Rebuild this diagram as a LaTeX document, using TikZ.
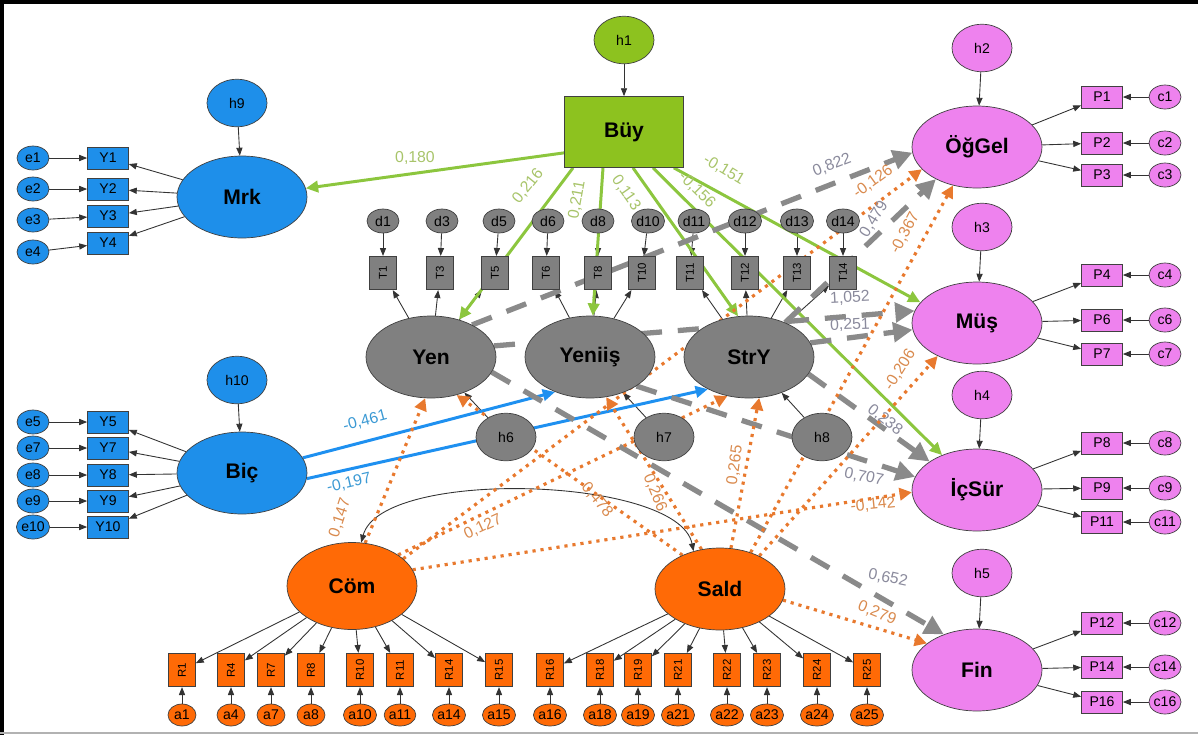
\documentclass[tikz,border=0pt]{standalone}
\usepackage{fontspec}
\setmainfont{Liberation Sans}
\usepackage{tikz}
\usetikzlibrary{arrows.meta,backgrounds,calc,shapes.geometric}
\definecolor{semblue}{HTML}{1E8FEA}
\definecolor{semgreen}{HTML}{8DC21F}
\definecolor{semgray}{HTML}{808080}
\definecolor{sempink}{HTML}{EE82EE}
\definecolor{semorange}{HTML}{FF6A06}
\definecolor{pathgreen}{HTML}{8CC63E}
\definecolor{pathblue}{HTML}{1E90F0}
\definecolor{pathgray}{HTML}{8A8A8A}
\definecolor{pathorange}{HTML}{E8792E}
\definecolor{lblgreen}{HTML}{A8C46A}
\definecolor{lblblue}{HTML}{3C9AD4}
\definecolor{lblgray}{HTML}{8A8A9C}
\definecolor{lblorange}{HTML}{D98A4E}

\begin{document}
\begin{tikzpicture}[x=0.02cm, y=-0.02cm,
  factor/.style={ellipse, draw=black!75, fill=#1, minimum width=2.6cm,
                 minimum height=1.64cm, inner sep=0pt,
                 font=\fontsize{12}{13}\selectfont\bfseries},
  resid/.style={ellipse, draw=black!75, fill=#1, minimum width=1.2cm,
                minimum height=0.95cm, inner sep=0pt, font=\fontsize{8}{9}\selectfont},
  err/.style={ellipse, draw=black!75, fill=#1, minimum width=0.64cm,
              minimum height=0.48cm, inner sep=0pt, font=\fontsize{8}{9}\selectfont},
  item/.style={rectangle, draw=black!75, fill=#1, minimum width=0.82cm,
               minimum height=0.44cm, inner sep=0pt, font=\fontsize{8}{9}\selectfont},
  vitem/.style={rectangle, draw=black!75, fill=#1, rotate=90, minimum width=0.67cm,
                minimum height=0.54cm, inner sep=0pt, font=\fontsize{6.5}{7}\selectfont},
  meas/.style={-{Triangle[length=4.5pt,width=3.5pt]}, draw=black!80, line width=0.5pt},
  cov/.style={{Triangle[length=4.5pt,width=3.5pt]}-{Triangle[length=4.5pt,width=3.5pt]},
              draw=black!80, line width=0.5pt},
  greenpath/.style={-{Triangle[length=7pt,width=6.5pt]}, draw=pathgreen, line width=1.7pt},
  bluepath/.style={-{Triangle[length=7pt,width=6.5pt]}, draw=pathblue, line width=1.7pt},
  graypath/.style={-{Triangle[length=11pt,width=11pt]}, draw=pathgray, line width=3pt,
                   dash pattern=on 12pt off 9pt},
  orangepath/.style={-{Triangle[length=7pt,width=7pt]}, draw=pathorange, line width=1.8pt,
                     dash pattern=on 1.8pt off 2.8pt},
  coef/.style={font=\fontsize{9}{10}\selectfont, inner sep=0pt},
]
  \useasboundingbox (0,0) rectangle (1198,735);
  \draw[line width=2.4pt] (0,2) -- (1198,2);
  \draw[line width=2.4pt] (2,0) -- (2,735);
  \draw[black!30, line width=0.8pt] (0,733) -- (1198,733);

  % Mrk ---------------------------------------------------------------------
  \node[resid=semblue] (h9) at (237,103) {h9};
  \node[factor=semblue] (Mrk) at (242,197) {Mrk};
  \node[item=semblue] (Y1) at (108,158) {Y1};
  \node[item=semblue] (Y2) at (108,189) {Y2};
  \node[item=semblue] (Y3) at (108,216) {Y3};
  \node[item=semblue] (Y4) at (108,243) {Y4};
  \node[err=semblue] (e1) at (33,158) {e1};
  \node[err=semblue] (e2) at (33,189) {e2};
  \node[err=semblue] (e3) at (33,220) {e3};
  \node[err=semblue] (e4) at (33,252) {e4};

  % Biç ---------------------------------------------------------------------
  \node[resid=semblue] (h10) at (237,380) {h10};
  \node[factor=semblue] (Bic) at (242,473) {Biç};
  \node[item=semblue] (Y5) at (108,422) {Y5};
  \node[item=semblue] (Y7) at (108,448) {Y7};
  \node[item=semblue] (Y8) at (108,475) {Y8};
  \node[item=semblue] (Y9) at (108,501) {Y9};
  \node[item=semblue] (Y10) at (108,527) {Y10};
  \node[err=semblue] (e5) at (33,422) {e5};
  \node[err=semblue] (e7) at (33,448) {e7};
  \node[err=semblue] (e8) at (33,475) {e8};
  \node[err=semblue] (e9) at (33,501) {e9};
  \node[err=semblue] (e10) at (33,527) {e10};

  % Büy ---------------------------------------------------------------------
  \node[resid=semgreen] (h1) at (624,40) {h1};
  \node[rectangle, draw=black!75, fill=semgreen, minimum width=2.38cm,
        minimum height=1.42cm, font=\fontsize{12}{13}\selectfont\bfseries] (Buy) at (624,132) {Büy};

  % Yen, Yeniiş, StrY -------------------------------------------------------
  \node[err=semgray] (d1) at (383,221) {d1};
  \node[err=semgray] (d3) at (442,221) {d3};
  \node[err=semgray] (d5) at (499,221) {d5};
  \node[err=semgray] (d6) at (548,221) {d6};
  \node[err=semgray] (d8) at (598,221) {d8};
  \node[err=semgray] (d10) at (648,221) {d10};
  \node[err=semgray] (d11) at (694,221) {d11};
  \node[err=semgray] (d12) at (745,221) {d12};
  \node[err=semgray] (d13) at (797,221) {d13};
  \node[err=semgray] (d14) at (843,221) {d14};
  \node[vitem=semgray] (T1) at (383,273) {T1};
  \node[vitem=semgray] (T3) at (440,273) {T3};
  \node[vitem=semgray] (T5) at (495,273) {T5};
  \node[vitem=semgray] (T6) at (546,273) {T6};
  \node[vitem=semgray] (T8) at (598,273) {T8};
  \node[vitem=semgray] (T10) at (642,273) {T10};
  \node[vitem=semgray] (T11) at (690,273) {T11};
  \node[vitem=semgray] (T12) at (745,273) {T12};
  \node[vitem=semgray] (T13) at (797,273) {T13};
  \node[vitem=semgray] (T14) at (843,273) {T14};
  \node[factor=semgray] (Yen) at (431,357) {Yen};
  \node[factor=semgray] (Yenis) at (590,357) {Yeniiş};
  \node[factor=semgray] (StrY) at (749,357) {StrY};
  \node[resid=semgray] (h6) at (506,437) {h6};
  \node[resid=semgray] (h7) at (664,437) {h7};
  \node[resid=semgray] (h8) at (822,437) {h8};

  % ÖğGel, Müş, İçSür, Fin --------------------------------------------------
  \node[resid=sempink] (h2) at (982,48) {h2};
  \node[factor=sempink] (OgGel) at (977,147) {ÖğGel};
  \node[item=sempink] (P1) at (1102,97) {P1};
  \node[item=sempink] (P2) at (1102,143) {P2};
  \node[item=sempink] (P3) at (1102,175) {P3};
  \node[err=sempink] (c1) at (1165,97) {c1};
  \node[err=sempink] (c2) at (1165,143) {c2};
  \node[err=sempink] (c3) at (1165,175) {c3};
  \node[resid=sempink] (h3) at (982,227) {h3};
  \node[factor=sempink] (Mus) at (977,323) {Müş};
  \node[item=sempink] (P4) at (1102,275) {P4};
  \node[item=sempink] (P6) at (1102,320) {P6};
  \node[item=sempink] (P7) at (1102,354) {P7};
  \node[err=sempink] (c4) at (1165,275) {c4};
  \node[err=sempink] (c6) at (1165,320) {c6};
  \node[err=sempink] (c7) at (1165,354) {c7};
  \node[resid=sempink] (h4) at (982,395) {h4};
  \node[factor=sempink] (IcSur) at (977,490) {İçSür};
  \node[item=sempink] (P8) at (1102,443) {P8};
  \node[item=sempink] (P9) at (1102,488) {P9};
  \node[item=sempink] (P11) at (1102,522) {P11};
  \node[err=sempink] (c8) at (1165,443) {c8};
  \node[err=sempink] (c9) at (1165,488) {c9};
  \node[err=sempink] (c11) at (1165,522) {c11};
  \node[resid=sempink] (h5) at (982,573) {h5};
  \node[factor=sempink] (Fin) at (977,670) {Fin};
  \node[item=sempink] (P12) at (1102,623) {P12};
  \node[item=sempink] (P14) at (1102,667) {P14};
  \node[item=sempink] (P16) at (1102,702) {P16};
  \node[err=sempink] (c12) at (1165,623) {c12};
  \node[err=sempink] (c14) at (1165,667) {c14};
  \node[err=sempink] (c16) at (1165,702) {c16};

  % Cöm, Sald ---------------------------------------------------------------
  \node[factor=semorange, minimum height=1.74cm] (Com) at (352,586) {Cöm};
  \node[factor=semorange] (Sald) at (720,589) {Sald};
  \node[vitem=semorange] (R1) at (182,670) {R1};
  \node[vitem=semorange] (R4) at (231,670) {R4};
  \node[vitem=semorange] (R7) at (271,670) {R7};
  \node[vitem=semorange] (R8) at (311,670) {R8};
  \node[vitem=semorange] (R10) at (360,670) {R10};
  \node[vitem=semorange] (R11) at (400,670) {R11};
  \node[vitem=semorange] (R14) at (449,670) {R14};
  \node[vitem=semorange] (R15) at (499,670) {R15};
  \node[vitem=semorange] (R16) at (550,670) {R16};
  \node[vitem=semorange] (R18) at (600,670) {R18};
  \node[vitem=semorange] (R19) at (638,670) {R19};
  \node[vitem=semorange] (R21) at (678,670) {R21};
  \node[vitem=semorange] (R22) at (727,670) {R22};
  \node[vitem=semorange] (R23) at (767,670) {R23};
  \node[vitem=semorange] (R24) at (817,670) {R24};
  \node[vitem=semorange] (R25) at (867,670) {R25};
  \node[err=semorange, minimum width=0.56cm, minimum height=0.44cm] (a1) at (182,715) {a1};
  \node[err=semorange, minimum width=0.56cm, minimum height=0.44cm] (a4) at (231,715) {a4};
  \node[err=semorange, minimum width=0.56cm, minimum height=0.44cm] (a7) at (271,715) {a7};
  \node[err=semorange, minimum width=0.56cm, minimum height=0.44cm] (a8) at (311,715) {a8};
  \node[err=semorange, minimum width=0.56cm, minimum height=0.44cm] (a10) at (360,715) {a10};
  \node[err=semorange, minimum width=0.56cm, minimum height=0.44cm] (a11) at (400,715) {a11};
  \node[err=semorange, minimum width=0.56cm, minimum height=0.44cm] (a14) at (449,715) {a14};
  \node[err=semorange, minimum width=0.56cm, minimum height=0.44cm] (a15) at (499,715) {a15};
  \node[err=semorange, minimum width=0.56cm, minimum height=0.44cm] (a16) at (550,715) {a16};
  \node[err=semorange, minimum width=0.56cm, minimum height=0.44cm] (a18) at (600,715) {a18};
  \node[err=semorange, minimum width=0.56cm, minimum height=0.44cm] (a19) at (638,715) {a19};
  \node[err=semorange, minimum width=0.56cm, minimum height=0.44cm] (a21) at (678,715) {a21};
  \node[err=semorange, minimum width=0.56cm, minimum height=0.44cm] (a22) at (727,715) {a22};
  \node[err=semorange, minimum width=0.56cm, minimum height=0.44cm] (a23) at (767,715) {a23};
  \node[err=semorange, minimum width=0.56cm, minimum height=0.44cm] (a24) at (817,715) {a24};
  \node[err=semorange, minimum width=0.56cm, minimum height=0.44cm] (a25) at (867,715) {a25};

  % Coefficients ------------------------------------------------------------
  \node[coef, text=lblgreen] (k180) at (415,158) {0,180};
  \node[coef, text=lblgreen, rotate=51] (k216) at (528,186) {0,216};
  \node[coef, text=lblgreen, rotate=80] (k211) at (577,200) {0,211};
  \node[coef, text=lblgreen, rotate=-55] (k113) at (626,193) {0,113};
  \node[coef, text=lblgreen, rotate=-45] (k156) at (697,190) {-0,156};
  \node[coef, text=lblgreen, rotate=-31] (k151) at (724,170) {-0,151};
  \node[coef, text=lblblue, rotate=15] (k461) at (365,421) {-0,461};
  \node[coef, text=lblblue, rotate=13] (k197) at (349,483) {-0,197};
  \node[coef, text=lblgray, rotate=21] (k822) at (832,165) {0,822};
  \node[coef, text=lblgray, rotate=58] (k479) at (874,219) {0,479};
  \node[coef, text=lblgray, rotate=3] (k1052) at (850,298) {1,052};
  \node[coef, text=lblgray, rotate=2] (k251) at (850,325) {0,251};
  \node[coef, text=lblgray, rotate=-38] (k238) at (885,420) {0,238};
  \node[coef, text=lblgray, rotate=-12] (k707) at (864,477) {0,707};
  \node[coef, text=lblgray, rotate=-12] (k652) at (888,578) {0,652};
  \node[coef, text=lblorange, rotate=72] (k147) at (340,518) {0,147};
  \node[coef, text=lblorange, rotate=25] (k127) at (483,527) {0,127};
  \node[coef, text=lblorange, rotate=36] (k126) at (873,182) {-0,126};
  \node[coef, text=lblorange, rotate=62] (k367) at (905,233) {-0,367};
  \node[coef, text=lblorange, rotate=58] (k206) at (900,370) {-0,206};
  \node[coef, text=lblorange, rotate=6] (k142) at (873,505) {-0,142};
  \node[coef, text=lblorange, rotate=-22] (k279) at (877,613) {0,279};
  \node[coef, text=lblorange, rotate=82] (k265) at (735,465) {0,265};
  \node[coef, text=lblorange, rotate=-68] (k266) at (655,493) {0,266};
  \node[coef, text=lblorange, rotate=-50] (k478) at (597,500) {0,478};

  \begin{scope}[on background layer]
    % Measurement -------------------------------------------------------------
    \draw[meas] (h9) -- (Mrk);
    \draw[meas] (Mrk) -- (Y1); \draw[meas] (e1) -- (Y1);
    \draw[meas] (Mrk) -- (Y2); \draw[meas] (e2) -- (Y2);
    \draw[meas] (Mrk) -- (Y3); \draw[meas] (e3) -- (Y3);
    \draw[meas] (Mrk) -- (Y4); \draw[meas] (e4) -- (Y4);
    \draw[meas] (h10) -- (Bic);
    \draw[meas] (Bic) -- (Y5); \draw[meas] (e5) -- (Y5);
    \draw[meas] (Bic) -- (Y7); \draw[meas] (e7) -- (Y7);
    \draw[meas] (Bic) -- (Y8); \draw[meas] (e8) -- (Y8);
    \draw[meas] (Bic) -- (Y9); \draw[meas] (e9) -- (Y9);
    \draw[meas] (Bic) -- (Y10); \draw[meas] (e10) -- (Y10);
    \draw[meas] (h1) -- (Buy);
    \draw[meas] (Yen) -- (T1); \draw[meas] (d1) -- (T1);
    \draw[meas] (Yen) -- (T3); \draw[meas] (d3) -- (T3);
    \draw[meas] (Yen) -- (T5); \draw[meas] (d5) -- (T5);
    \draw[meas] (Yenis) -- (T6); \draw[meas] (d6) -- (T6);
    \draw[meas] (Yenis) -- (T8); \draw[meas] (d8) -- (T8);
    \draw[meas] (Yenis) -- (T10); \draw[meas] (d10) -- (T10);
    \draw[meas] (StrY) -- (T11); \draw[meas] (d11) -- (T11);
    \draw[meas] (StrY) -- (T12); \draw[meas] (d12) -- (T12);
    \draw[meas] (StrY) -- (T13); \draw[meas] (d13) -- (T13);
    \draw[meas] (StrY) -- (T14); \draw[meas] (d14) -- (T14);
    \draw[meas] (h6) -- (Yen); \draw[meas] (h7) -- (Yenis); \draw[meas] (h8) -- (StrY);
    \draw[meas] (h2) -- (OgGel);
    \draw[meas] (OgGel) -- (P1); \draw[meas] (c1) -- (P1);
    \draw[meas] (OgGel) -- (P2); \draw[meas] (c2) -- (P2);
    \draw[meas] (OgGel) -- (P3); \draw[meas] (c3) -- (P3);
    \draw[meas] (h3) -- (Mus);
    \draw[meas] (Mus) -- (P4); \draw[meas] (c4) -- (P4);
    \draw[meas] (Mus) -- (P6); \draw[meas] (c6) -- (P6);
    \draw[meas] (Mus) -- (P7); \draw[meas] (c7) -- (P7);
    \draw[meas] (h4) -- (IcSur);
    \draw[meas] (IcSur) -- (P8); \draw[meas] (c8) -- (P8);
    \draw[meas] (IcSur) -- (P9); \draw[meas] (c9) -- (P9);
    \draw[meas] (IcSur) -- (P11); \draw[meas] (c11) -- (P11);
    \draw[meas] (h5) -- (Fin);
    \draw[meas] (Fin) -- (P12); \draw[meas] (c12) -- (P12);
    \draw[meas] (Fin) -- (P14); \draw[meas] (c14) -- (P14);
    \draw[meas] (Fin) -- (P16); \draw[meas] (c16) -- (P16);
    \draw[meas] (Com) -- (R1); \draw[meas] (a1) -- (R1);
    \draw[meas] (Com) -- (R4); \draw[meas] (a4) -- (R4);
    \draw[meas] (Com) -- (R7); \draw[meas] (a7) -- (R7);
    \draw[meas] (Com) -- (R8); \draw[meas] (a8) -- (R8);
    \draw[meas] (Com) -- (R10); \draw[meas] (a10) -- (R10);
    \draw[meas] (Com) -- (R11); \draw[meas] (a11) -- (R11);
    \draw[meas] (Com) -- (R14); \draw[meas] (a14) -- (R14);
    \draw[meas] (Com) -- (R15); \draw[meas] (a15) -- (R15);
    \draw[meas] (Sald) -- (R16); \draw[meas] (a16) -- (R16);
    \draw[meas] (Sald) -- (R18); \draw[meas] (a18) -- (R18);
    \draw[meas] (Sald) -- (R19); \draw[meas] (a19) -- (R19);
    \draw[meas] (Sald) -- (R21); \draw[meas] (a21) -- (R21);
    \draw[meas] (Sald) -- (R22); \draw[meas] (a22) -- (R22);
    \draw[meas] (Sald) -- (R23); \draw[meas] (a23) -- (R23);
    \draw[meas] (Sald) -- (R24); \draw[meas] (a24) -- (R24);
    \draw[meas] (Sald) -- (R25); \draw[meas] (a25) -- (R25);
    \draw[cov] (Com.78) .. controls +(20,-75) and +(-15,-75) .. (Sald.125);

    % Structural paths --------------------------------------------------------
    \draw[greenpath] ($(Buy.south west)+(0,-15)$) -- (Mrk);
    \draw[greenpath] ($(Buy.south)+(-51,0)$) -- (Yen);
    \draw[greenpath] ($(Buy.south)+(-21,0)$) -- (Yenis);
    \draw[greenpath] ($(Buy.south)+(9,0)$) -- (StrY.105);
    \draw[greenpath] ($(Buy.south)+(29,0)$) -- (IcSur.135);
    \draw[greenpath] ($(Buy.south east)+(-10,0)$) -- (Mus.160);
    \draw[bluepath] (Bic.14) -- (Yenis.225);
    \draw[bluepath] (Bic.355) -- (StrY.218);
    \draw[graypath] (Yen.38) -- (OgGel.185);
    \draw[graypath] (StrY) -- (OgGel.218);
    \draw[graypath] (Yen.10) -- (Mus.169);
    \draw[graypath] (StrY.13) -- (Mus.186);
    \draw[graypath] (StrY.344) -- (IcSur.149);
    \draw[graypath] (Yenis.328) -- (IcSur.168);
    \draw[graypath] (Yen.346) -- (Fin.133);
    \draw[orangepath] (Com.73) -- (Yen.262);
    \draw[orangepath] (Com.34) -- (StrY.241);
    \draw[orangepath] (Com.28) -- (OgGel.202);
    \draw[orangepath] (Com.15) -- (IcSur.182);
    \draw[orangepath] (Sald.138) -- (Yen.304);
    \draw[orangepath] (Sald.115) -- (Yenis.292);
    \draw[orangepath] (Sald.75) -- (StrY.284);
    \draw[orangepath] (Sald.50) -- (OgGel.238);
    \draw[orangepath] (Sald.40) -- (Mus.220);
    \draw[orangepath] (Sald.350) -- (Fin.152);
  \end{scope}
\end{tikzpicture}
\end{document}
